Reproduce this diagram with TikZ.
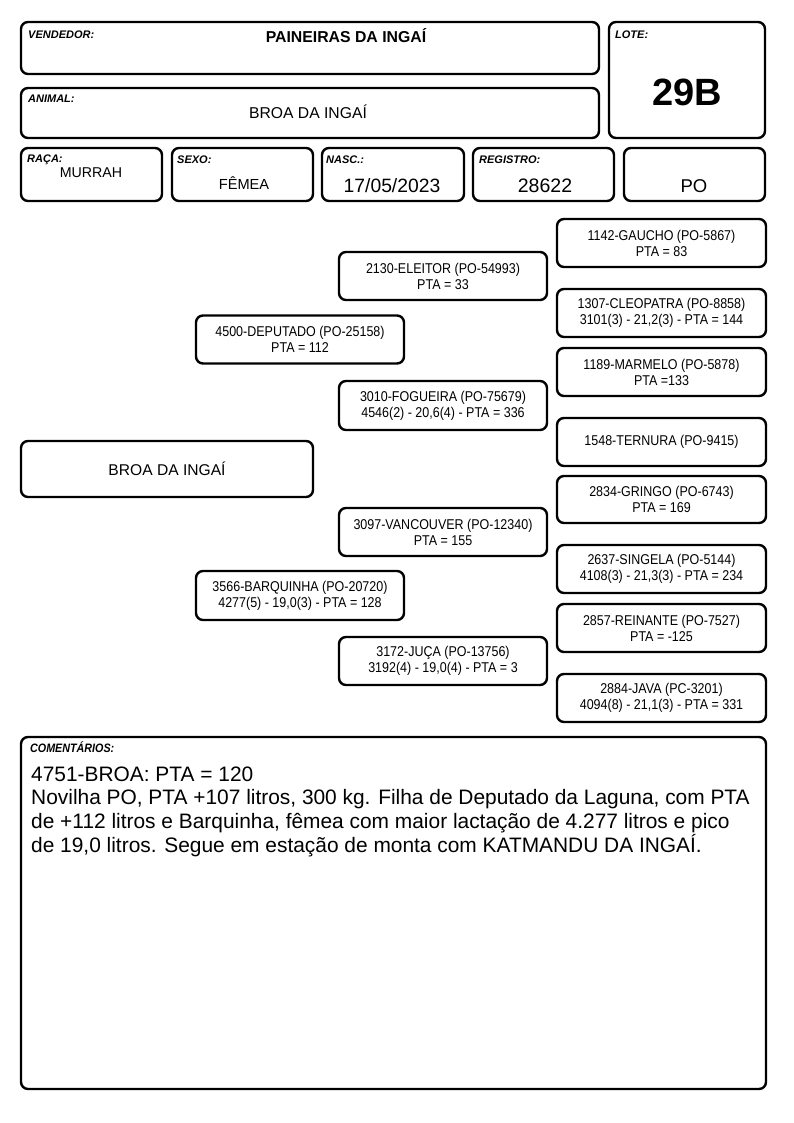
\documentclass[tikz,border=0pt]{standalone}
\usepackage{fontspec}
\setmainfont{Liberation Sans}
\newfontfamily\narrowf[FakeStretch=0.88]{Liberation Sans}
\begin{document}
\begin{tikzpicture}[x=1pt,y=-1pt,
  box/.style={draw, line width=2.4pt, rounded corners=7pt, inner sep=0pt},
  pbox/.style={box, minimum width=208pt, minimum height=48pt, align=center,
     font=\narrowf\fontsize{14.2}{16}\selectfont},
  lbl/.style={anchor=base west, inner sep=0pt, font=\fontsize{11}{12}\selectfont\bfseries\itshape},
  val/.style={anchor=base, inner sep=0pt},
  cline/.style={anchor=base west, inner sep=0pt, font=\fontsize{20.9}{24}\selectfont}]
\useasboundingbox (0,0) rectangle (794,1123);
% header boxes
\node (vend) [box, minimum width=578pt, minimum height=52pt] at (310,48) {};
\node (lote) [box, minimum width=156pt, minimum height=116pt] at (687,80) {};
\node (animal) [box, minimum width=578pt, minimum height=50pt] at (310,113) {};
\node (raca) [box, minimum width=141pt, minimum height=53pt] at (91.5,174.5) {};
\node (sexo) [box, minimum width=141pt, minimum height=53pt] at (242.5,174.5) {};
\node (nasc) [box, minimum width=142pt, minimum height=53pt] at (393,174.5) {};
\node (reg) [box, minimum width=141pt, minimum height=53pt] at (543.5,174.5) {};
\node (po) [box, minimum width=141pt, minimum height=53pt] at (694.5,174.5) {};
% labels
\node (lvend) [lbl] at (28,39) {VENDEDOR:};
\node (llote) [lbl] at (615,39) {LOTE:};
\node (lanimal) [lbl] at (28,103) {ANIMAL:};
\node (lraca) [lbl] at (27,163) {RAÇA:};
\node (lsexo) [lbl] at (177,164) {SEXO:};
\node (lnasc) [lbl] at (326,164) {NASC.:};
\node (lreg) [lbl] at (479,164) {REGISTRO:};
% values
\node (vvend) [val, font=\fontsize{15.8}{18}\selectfont\bfseries] at (346,43) {PAINEIRAS DA INGAÍ};
\node (vanimal) [val, font=\fontsize{15.7}{18}\selectfont] at (308,119) {BROA DA INGAÍ};
\node (vlote) [val, font=\fontsize{38}{42}\selectfont\bfseries] at (687,106) {29B};
\node (vraca) [val, font=\fontsize{14.2}{18}\selectfont] at (91,178) {MURRAH};
\node (vsexo) [val, font=\fontsize{14.6}{18}\selectfont] at (244,190) {FÊMEA};
\node (vnasc) [val, font=\fontsize{19.3}{20}\selectfont] at (392,193) {17/05/2023};
\node (vreg) [val, font=\fontsize{19.5}{20}\selectfont] at (545,193) {28622};
\node (vpo) [val, font=\fontsize{18.5}{20}\selectfont] at (694,193) {PO};
% pedigree
\node (broa) [box, minimum width=292pt, minimum height=56pt, font=\fontsize{15.6}{18}\selectfont] at (167,469) {BROA DA INGAÍ};
\node (deputado) [pbox] at (300,339.5) {4500-DEPUTADO (PO-25158)\\PTA = 112};
\node (barquinha) [pbox, minimum height=49pt] at (300,595.5) {3566-BARQUINHA (PO-20720)\\4277(5) - 19,0(3) - PTA = 128};
\node (eleitor) [pbox] at (443,276) {2130-ELEITOR (PO-54993)\\PTA = 33};
\node (fogueira) [pbox, minimum height=49pt] at (443,405.5) {3010-FOGUEIRA (PO-75679)\\4546(2) - 20,6(4) - PTA = 336};
\node (vancouver) [pbox] at (443,532) {3097-VANCOUVER (PO-12340)\\PTA = 155};
\node (juca) [pbox] at (443,661) {3172-JUÇA (PO-13756)\\3192(4) - 19,0(4) - PTA = 3};
\node (gaucho) [pbox, minimum width=209pt] at (661.5,243) {1142-GAUCHO (PO-5867)\\PTA = 83};
\node (cleopatra) [pbox, minimum width=209pt] at (661.5,313) {1307-CLEOPATRA (PO-8858)\\3101(3) - 21,2(3) - PTA = 144};
\node (marmelo) [pbox, minimum width=209pt] at (661.5,372) {1189-MARMELO (PO-5878)\\PTA =133};
\node (ternura) [pbox, minimum width=209pt] at (661.5,442) {1548-TERNURA (PO-9415)};
\node (gringo) [pbox, minimum width=209pt, minimum height=47pt] at (661.5,499.5) {2834-GRINGO (PO-6743)\\PTA = 169};
\node (singela) [pbox, minimum width=209pt] at (661.5,569) {2637-SINGELA (PO-5144)\\4108(3) - 21,3(3) - PTA = 234};
\node (reinante) [pbox, minimum width=209pt] at (661.5,628) {2857-REINANTE (PO-7527)\\PTA = -125};
\node (java) [pbox, minimum width=209pt] at (661.5,698) {2884-JAVA (PC-3201)\\4094(8) - 21,1(3) - PTA = 331};
% comments
\node (coment) [box, minimum width=745pt, minimum height=352pt] at (393.5,913) {};
\node (lcoment) [lbl, font=\narrowf\fontsize{12.2}{13}\selectfont\bfseries\itshape] at (30,752) {COMENTÁRIOS:};
\node (c1) [cline] at (31,781) {4751-BROA: PTA = 120};
\node (c2) [cline] at (31,804.7) {Novilha PO, PTA +107 litros, 300 kg. Filha de Deputado da Laguna, com PTA};
\node (c3) [cline] at (31,828.3) {de +112 litros e Barquinha, fêmea com maior lactação de 4.277 litros e pico};
\node (c4) [cline] at (31,852) {de 19,0 litros. Segue em estação de monta com KATMANDU DA INGAÍ.};
\end{tikzpicture}
\end{document}
